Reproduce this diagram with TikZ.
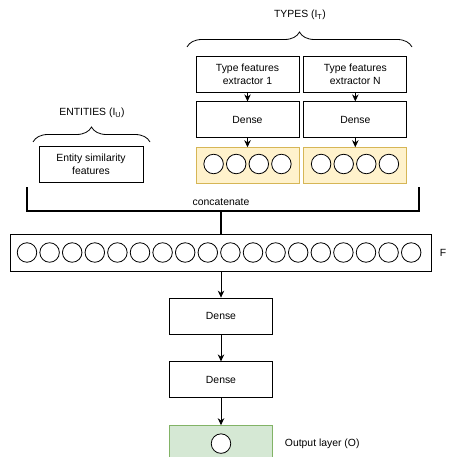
\documentclass[tikz,border=0pt]{standalone}
\usepackage{fontspec}
\setmainfont{Liberation Sans}
\usepackage{tikz}
\usetikzlibrary{positioning,arrows.meta,decorations.pathreplacing}
\definecolor{featfill}{HTML}{FFF2CC}
\definecolor{featdraw}{HTML}{D6B656}
\definecolor{outfill}{HTML}{D5E8D4}
\definecolor{outdraw}{HTML}{82B366}

\begin{document}
\begin{tikzpicture}[x=1pt, y=-1pt, font=\fontsize{10.4}{12.6}\selectfont,
	box/.style={draw, line width=0.8pt, minimum width=103pt, minimum height=36pt, align=center, inner sep=0pt},
	feat/.style={box, fill=featfill, draw=featdraw},
	unit/.style={draw, circle, line width=0.8pt, minimum size=19.5pt, inner sep=0pt, fill=white},
	arr/.style={-{Stealth[length=7pt,width=6.5pt]}, line width=0.8pt},
	curly/.style={decorate, decoration={brace, amplitude=15pt}, line width=0.8pt}]
	\useasboundingbox (0,0) rectangle (448,457);

	\node (types) at (300,15) {TYPES (I\textsubscript{T})};
	\node[box] (ext1) at (247.5,74) {Type features\\extractor 1};
	\node[box, right=4pt of ext1] (extN) {Type features\\extractor N};
	\node[box, below=9pt of ext1] (dense1) {Dense};
	\node[box, below=9pt of extN] (denseN) {Dense};
	\node[feat, below=9pt of dense1] (feat1) {};
	\node[feat, below=9pt of denseN] (featN) {};
	\foreach \i in {0,...,3} {
		\node[unit] (f1\i) at (213.6+22.6*\i,164) {};
		\node[unit] (fN\i) at (321.1+22.6*\i,164) {};
	}

	\node (entities) at (92,113) {ENTITIES (I\textsubscript{U})};
	\node[box, minimum width=104pt] (entity) at (91,164) {Entity similarity\\features};

	\draw[curly] (187,47) -- (412,47);
	\draw[curly] (33,142) -- (150,142);

	% concatenate bracket
	\coordinate (catl) at (27,187);
	\coordinate (catr) at (419,187);
	\coordinate (join) at (221,211);
	\draw[line width=1.8pt] (catl) -- (catl |- join) -| (catr);
	\node (concat) at (221,202) {concatenate};

	\node[box, minimum width=421pt, minimum height=37pt] (row) at (220.5,252.5) {};
	\foreach \i in {0,...,17}
		\node[unit] (r\i) at (27+22.6*\i,252.5) {};
	\node[right=5pt of row] (rowlab) {F};
	\draw[line width=1.8pt] (join) -- (join |- row.north);

	\node[box] (hid1) at (221,316) {Dense};
	\node[box, below=27pt of hid1] (hid2) {Dense};
	\node[box, fill=outfill, draw=outdraw, below=27pt of hid2] (out) {};
	\node[unit] (o) at (out.center) {};
	\node[right=8.5pt of out] (outlab) {Output layer (O)};

	\draw[arr] (ext1) -- (dense1);
	\draw[arr] (extN) -- (denseN);
	\draw[arr] (dense1) -- (feat1);
	\draw[arr] (denseN) -- (featN);
	\draw[arr] (row.south -| hid1) -- (hid1);
	\draw[arr] (hid1) -- (hid2);
	\draw[arr] (hid2) -- (out);
\end{tikzpicture}
\end{document}
